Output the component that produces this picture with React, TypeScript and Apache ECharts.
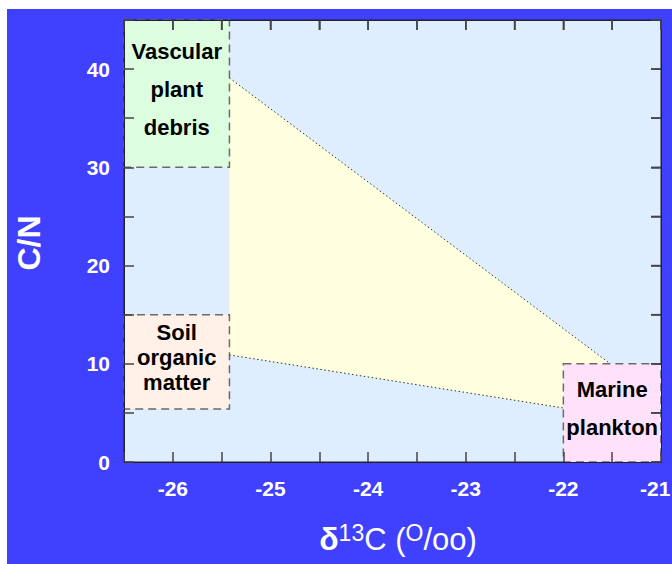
import React, { useEffect, useRef } from "react";
import * as echarts from "echarts";

// Source regions (δ13C range, C/N range)
const boxLabels = ["Vascular\nplant\ndebris", "Soil\norganic\nmatter", "Marine\nplankton"];
const boxX0 = [-26.5, -26.5, -22.0];
const boxX1 = [-25.42, -25.42, -21.0];
const boxY0 = [30, 5.4, 0];
const boxY1 = [45, 15, 10];

// Mixing field (polygon vertices)
const mixX = [-25.42, -21.52, -22.0, -25.42];
const mixY = [39.1, 10.0, 5.5, 10.9];

// Axis ticks
const xMin = -26.5;
const xMax = -21;
const xStep = 0.5;
const yMin = 0;
const yMax = 45;
const yStep = 5;
const xTickValues = [-26.5, -26, -25.5, -25, -24.5, -24, -23.5, -23, -22.5, -22, -21.5, -21];
const yTickValues = [0, 5, 10, 15, 20, 25, 30, 35, 40, 45];

const boxFills = ["#dcfde0", "#fff0e8", "#ffe2fa"];
const boxLineHeights = [38, 25, 38];
const FONT = "'Liberation Sans', Arial, Helvetica, sans-serif";
const TICK_COLOR = "#444";

export default function App() {
  const ref = useRef<HTMLDivElement>(null);
  useEffect(() => {
    if (!ref.current) return;
    const chart = echarts.init(ref.current, null, { renderer: "svg" });

    const boxData = boxLabels.map((_, i) => [boxX0[i], boxY0[i], boxX1[i], boxY1[i]]);
    const mixData = mixX.map((x, i) => [x, mixY[i]]);

    const labelStyle = {
      color: "#ffffff",
      fontWeight: "bold",
      fontSize: 21,
      fontFamily: FONT,
    };
    const mkAxis = (pos: string, isX: boolean, label: any) => ({
      type: "value",
      position: pos,
      min: isX ? xMin : yMin,
      max: isX ? xMax : yMax,
      interval: isX ? xStep : yStep,
      z: 10,
      splitLine: { show: false },
      axisLine: { show: true, onZero: false, lineStyle: { color: "#222", width: 1 } },
      axisTick: { show: true, inside: true, length: 10, lineStyle: { color: TICK_COLOR, width: 1.5 } },
      axisLabel: label,
    });

    chart.setOption({
      animation: false,
      backgroundColor: "transparent",
      graphic: [
        {
          type: "text",
          x: 29,
          y: 243,
          rotation: Math.PI / 2,
          style: {
            text: "C/N",
            fill: "#ffffff",
            fontSize: 32,
            fontWeight: "bold",
            fontFamily: FONT,
            align: "center",
            verticalAlign: "middle",
          },
        },
        {
          type: "text",
          x: 398,
          y: 538,
          style: {
            text: "{d|δ}{s|13}{n|C (}{s|O}{n|/oo)}",
            fill: "#ffffff",
            align: "center",
            verticalAlign: "middle",
            rich: {
              d: { fontSize: 32, fontWeight: "bold", fontFamily: FONT, fill: "#ffffff", verticalAlign: "bottom" },
              n: { fontSize: 31, fontFamily: FONT, fill: "#ffffff", verticalAlign: "bottom" },
              s: { fontSize: 23, fontFamily: FONT, fill: "#ffffff", verticalAlign: "bottom", padding: [0, 0, 11, 0] },
            },
          },
        },
      ],
      grid: {
        left: 124,
        top: 20,
        width: 537,
        height: 442,
        containLabel: false,
        outerBoundsMode: "none",
        show: true,
        backgroundColor: "#dfeeff",
        borderColor: "#222",
        borderWidth: 1,
      },
      xAxis: [
        mkAxis("bottom", true, {
          ...labelStyle,
          margin: 16,
          formatter: (v: number) =>
            Number.isInteger(v) ? (v === xMax ? "{r|" + v + "}" : String(v)) : "",
          rich: { r: { ...labelStyle, width: 42, align: "left" } },
        }),
        mkAxis("top", true, { show: true, formatter: () => "" }),
      ],
      yAxis: [
        mkAxis("left", false, {
          ...labelStyle,
          margin: 14,
          formatter: (v: number) => (v % 10 === 0 ? String(v) : ""),
        }),
        mkAxis("right", false, { show: true, formatter: () => "" }),
      ],
      series: [
        {
          type: "custom",
          xAxisIndex: 0,
          yAxisIndex: 0,
          data: mixData,
          z: 2,
          renderItem: (params: any, api: any) => {
            if (params.dataIndex !== 0) return null;
            const pts = mixX.map((x, i) => api.coord([x, mixY[i]]));
            return {
              type: "group",
              children: [
                {
                  type: "polygon",
                  shape: { points: pts },
                  style: { fill: "#ffffe0", stroke: "none" },
                },
                {
                  type: "line",
                  shape: { x1: pts[0][0], y1: pts[0][1], x2: pts[1][0], y2: pts[1][1] },
                  style: { stroke: "#333", lineWidth: 1, lineDash: [1.5, 2.5] },
                },
                {
                  type: "line",
                  shape: { x1: pts[3][0], y1: pts[3][1], x2: pts[2][0], y2: pts[2][1] },
                  style: { stroke: "#333", lineWidth: 1, lineDash: [1.5, 2.5] },
                },
              ],
            };
          },
        },
        {
          type: "custom",
          xAxisIndex: 0,
          yAxisIndex: 0,
          data: boxData,
          z: 3,
          renderItem: (params: any, api: any) => {
            const i = params.dataIndex;
            const p0 = api.coord([api.value(0), api.value(1)]);
            const p1 = api.coord([api.value(2), api.value(3)]);
            const cx = (p0[0] + p1[0]) / 2;
            const cy = (p0[1] + p1[1]) / 2 - 4;
            return {
              type: "group",
              children: [
                {
                  type: "rect",
                  shape: { x: p0[0], y: p1[1], width: p1[0] - p0[0], height: p0[1] - p1[1] },
                  style: { fill: boxFills[i], stroke: "#6a6a6a", lineWidth: 1.5, lineDash: [8, 5] },
                },
                {
                  type: "text",
                  style: {
                    text: boxLabels[i],
                    x: cx,
                    y: cy,
                    align: "center",
                    verticalAlign: "middle",
                    fill: "#000000",
                    fontSize: 22,
                    fontWeight: "bold",
                    fontFamily: FONT,
                    lineHeight: boxLineHeights[i],
                  },
                },
              ],
            };
          },
        },
        {
          // mirrored ticks on the top edge
          type: "custom",
          xAxisIndex: 0,
          yAxisIndex: 0,
          data: xTickValues.map((x) => [x, yMax]),
          z: 5,
          silent: true,
          renderItem: (params: any, api: any) => {
            const p = api.coord([api.value(0), api.value(1)]);
            return {
              type: "line",
              shape: { x1: p[0], y1: p[1], x2: p[0], y2: p[1] + 10 },
              style: { stroke: TICK_COLOR, lineWidth: 1.5 },
            };
          },
        },
        {
          // mirrored ticks on the right edge
          type: "custom",
          xAxisIndex: 0,
          yAxisIndex: 0,
          data: yTickValues.map((y) => [xMax, y]),
          z: 5,
          silent: true,
          renderItem: (params: any, api: any) => {
            const p = api.coord([api.value(0), api.value(1)]);
            return {
              type: "line",
              shape: { x1: p[0], y1: p[1], x2: p[0] - 10, y2: p[1] },
              style: { stroke: TICK_COLOR, lineWidth: 1.5 },
            };
          },
        },
      ],
    });
    return () => chart.dispose();
  }, []);

  return (
    <div style={{ position: "absolute", left: 0, top: 0, width: 672, height: 564, background: "#ffffff" }}>
      <div style={{ position: "absolute", left: 7, top: 9, width: 665, height: 555, background: "#4040ff" }} />
      <div
        ref={ref}
        style={{ position: "absolute", left: 0, top: 0, width: 672, height: 564 }}
      />
    </div>
  );
}
